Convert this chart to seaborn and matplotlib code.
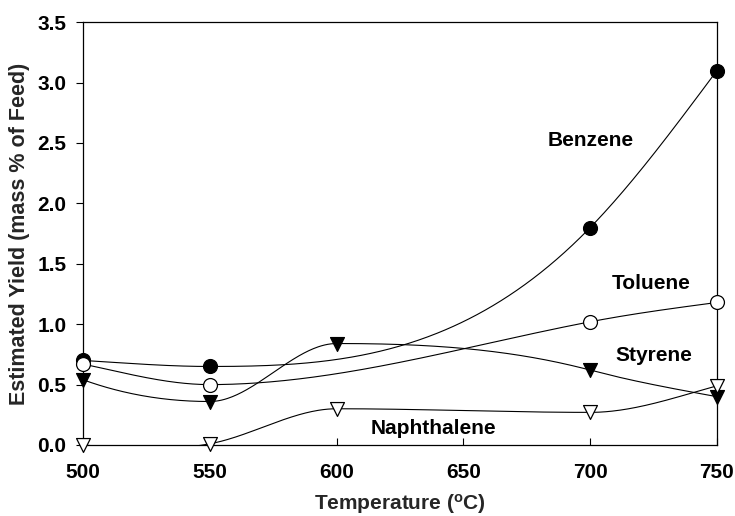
import numpy as np
import pandas as pd
import matplotlib
matplotlib.use("Agg")
import matplotlib.pyplot as plt
import seaborn as sns

temps = [500, 550, 600, 700, 750]
benzene_t = [500, 550, 700, 750]
benzene = [0.70, 0.65, 1.80, 3.10]
toluene_t = [500, 550, 700, 750]
toluene = [0.67, 0.50, 1.02, 1.18]
styrene_t = [500, 550, 600, 700, 750]
styrene = [0.54, 0.36, 0.84, 0.62, 0.40]
naph_t = [500, 550, 600, 700, 750]
naph = [0.0, 0.01, 0.30, 0.27, 0.49]
x_ticks = [500, 550, 600, 650, 700, 750]
y_ticks = [0.0, 0.5, 1.0, 1.5, 2.0, 2.5, 3.0, 3.5]

sns.set_theme(style="ticks")
plt.rcParams['font.family'] = ['Liberation Sans', 'DejaVu Sans']
plt.rcParams['mathtext.fontset'] = 'custom'
plt.rcParams['mathtext.rm'] = 'Liberation Sans:bold'
plt.rcParams['mathtext.bf'] = 'Liberation Sans:bold'
plt.rcParams['mathtext.it'] = 'Liberation Sans:bold'


def smooth_curve(x, y, n=400):
    """Cubic Hermite curve: natural-spline slopes, flat at local extrema."""
    x = np.asarray(x, float)
    y = np.asarray(y, float)
    k = len(x)
    h = np.diff(x)
    d = np.diff(y) / h
    A = np.zeros((k, k))
    b = np.zeros(k)
    A[0, 0] = 1
    A[-1, -1] = 1
    for i in range(1, k - 1):
        A[i, i - 1] = h[i - 1]
        A[i, i] = 2 * (h[i - 1] + h[i])
        A[i, i + 1] = h[i]
        b[i] = 6 * (d[i] - d[i - 1])
    M = np.linalg.solve(A, b)
    m = np.zeros(k)
    for i in range(k - 1):
        m[i] = d[i] - h[i] * (2 * M[i] + M[i + 1]) / 6
    m[-1] = d[-1] + h[-1] * (M[-2] + 2 * M[-1]) / 6
    for i in range(1, k - 1):
        if d[i - 1] * d[i] <= 0:
            m[i] = 0.0
    xs = np.linspace(x[0], x[-1], n)
    idx = np.clip(np.searchsorted(x, xs) - 1, 0, k - 2)
    hh = h[idx]
    s = (xs - x[idx]) / hh
    h00 = 2 * s ** 3 - 3 * s ** 2 + 1
    h10 = s ** 3 - 2 * s ** 2 + s
    h01 = -2 * s ** 3 + 3 * s ** 2
    h11 = s ** 3 - s ** 2
    ys = (h00 * y[idx] + h10 * hh * m[idx] + h01 * y[idx + 1]
          + h11 * hh * m[idx + 1])
    return xs, ys


fig = plt.figure(figsize=(7.35, 5.16), dpi=100)
ax = fig.add_axes([0.113, 0.1376, 0.8625, 0.8194])

series = [
    ("Benzene", benzene_t, benzene, "o", "black", "black"),
    ("Toluene", toluene_t, toluene, "o", "white", "black"),
    ("Styrene", styrene_t, styrene, "v", "black", "black"),
    ("Naphthalene", naph_t, naph, "v", "white", "black"),
]

for name, xt, yv, mk, fc, ec in series:
    xs, ys = smooth_curve(xt, yv)
    ax.plot(xs, ys, color="black", lw=0.8, zorder=2)
    df = pd.DataFrame({"T": xt, "Y": yv})
    sns.scatterplot(data=df, x="T", y="Y", ax=ax, marker=mk, s=100,
                    color=fc, edgecolor=ec, linewidth=0.9, zorder=3,
                    clip_on=False)

labels = [("Benzene", 700, 2.52), ("Toluene", 724, 1.34),
          ("Styrene", 725, 0.745), ("Naphthalene", 638, 0.14)]
for txt, x, y in labels:
    ax.text(x, y, txt, ha="center", va="center", fontsize=15,
            fontweight="bold", color="black")

ax.set_xlim(500, 750)
ax.set_ylim(0, 3.5)
ax.set_xticks(x_ticks)
ax.set_yticks(y_ticks)
ax.set_yticklabels([f"{v:.1f}" for v in y_ticks])
for lab in ax.get_xticklabels() + ax.get_yticklabels():
    lab.set_fontweight("bold")
ax.tick_params(axis="x", direction="in", length=5, width=0.8, labelsize=15,
               pad=13, colors="black")
ax.tick_params(axis="y", direction="out", length=5, width=0.8, labelsize=15,
               pad=7, colors="black")
ax.set_xlabel(r"Temperature ($^{\mathrm{o}}$C)", fontsize=15,
              fontweight="bold", labelpad=7)
ax.set_ylabel("Estimated Yield (mass % of Feed)", fontsize=15.5,
              fontweight="bold", labelpad=5)
for sp in ax.spines.values():
    sp.set_visible(True)
    sp.set_color("black")
    sp.set_linewidth(0.9)

fig.savefig("out.png", dpi=100, facecolor="white")
